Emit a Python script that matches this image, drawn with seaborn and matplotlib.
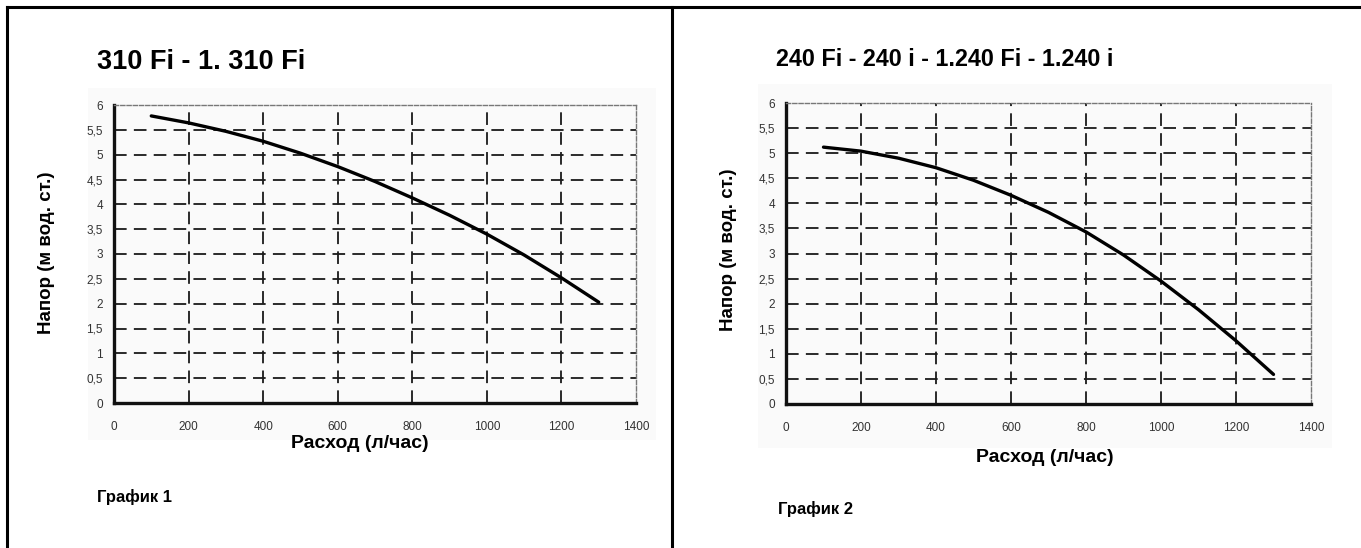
import matplotlib
matplotlib.use("Agg")
import matplotlib.pyplot as plt
import matplotlib.patches as mpatches
import matplotlib.lines as mlines
import pandas as pd
import seaborn as sns

# =========================================
# DATA
# =========================================

flow_1 = [100, 200, 300, 400, 500, 600, 700, 800, 900, 1000, 1100, 1200, 1300]
head_1 = [5.78, 5.64, 5.47, 5.27, 5.03, 4.76, 4.46, 4.13, 3.78, 3.40, 2.98, 2.52, 2.03]

flow_2 = [100, 200, 300, 400, 500, 600, 700, 800, 900, 1000, 1100, 1200, 1300]
head_2 = [5.12, 5.04, 4.90, 4.71, 4.46, 4.16, 3.82, 3.43, 2.97, 2.45, 1.88, 1.26, 0.59]

titles = ["310 Fi - 1. 310 Fi", "240 Fi - 240 i - 1.240 Fi - 1.240 i"]
captions = ["График 1", "График 2"]
x_label = "Расход (л/час)"
y_label = "Напор (м вод. ст.)"

x_ticks = [0, 200, 400, 600, 800, 1000, 1200, 1400]
y_ticks = [0, 0.5, 1, 1.5, 2, 2.5, 3, 3.5, 4, 4.5, 5, 5.5, 6]
y_tick_labels = [("%g" % v).replace(".", ",") for v in y_ticks]

sns.set_style("white")
plt.rcParams["font.family"] = ["Liberation Sans", "DejaVu Sans"]
plt.rcParams["text.color"] = "black"
plt.rcParams["axes.labelcolor"] = "black"

W, H = 1361, 548
fig = plt.figure(figsize=(W / 100, H / 100), dpi=100)


def fx(px):
    return px / W


def fy(py):
    return 1 - py / H


# frame lines of the scanned page
for xs, ys in [
    ((7, 7), (7, H)),
    ((7, W), (7, 7)),
    ((672, 672), (7, H)),
]:
    fig.add_artist(mlines.Line2D([fx(v) for v in xs], [fy(v) for v in ys],
                                 color="black", lw=2.2, solid_capstyle="projecting"))

# faint grey scan background behind each chart
for x0, y0, x1, y1 in [(88, 88, 656, 440), (758, 84, 1332, 448)]:
    fig.add_artist(mpatches.Rectangle((fx(x0), fy(y1)), fx(x1 - x0), (y1 - y0) / H,
                                      facecolor="#fafafa", edgecolor="none", zorder=0))

# axes boxes in pixels: left, top, right, bottom
boxes = [(114, 105, 636, 403), (786, 103, 1311, 404)]
xlabel_pos = [(360, 443), (1045, 458)]
ylabel_pos = [(47, 253), (729, 250)]
title_pos = [(97, 62), (776, 59)]
title_size = [19.5, 16.8]
caption_pos = [(97, 497), (778, 509)]
datasets = [(flow_1, head_1), (flow_2, head_2)]

for i, (l, t, r, b) in enumerate(boxes):
    ax = fig.add_axes([fx(l), fy(b), fx(r - l), (b - t) / H])
    ax.set_facecolor("none")

    df = pd.DataFrame({"flow": datasets[i][0], "head": datasets[i][1]})
    sns.lineplot(data=df, x="flow", y="head", color="black", lw=2.4, ax=ax, zorder=5)

    ax.set_xlim(0, 1400)
    ax.set_ylim(0, 6)
    ax.set_xticks(x_ticks)
    ax.set_yticks(y_ticks)
    ax.set_xticklabels([str(v) for v in x_ticks])
    ax.set_yticklabels(y_tick_labels)

    # dashed grid
    for v in y_ticks[1:-1]:
        ax.axhline(v, color="#1a1a1a", lw=1.3, ls=(0, (7, 4)), zorder=1)
    for v in x_ticks[1:-1]:
        ax.axvline(v, color="#1a1a1a", lw=1.3, ls=(0, (7, 4)), zorder=1)

    for side in ["left", "bottom"]:
        ax.spines[side].set_linewidth(2.4)
        ax.spines[side].set_color("#111111")
    for side in ["top", "right"]:
        ax.spines[side].set_linewidth(1.0)
        ax.spines[side].set_color("#777777")
        ax.spines[side].set_linestyle((0, (3, 1.5)))

    ax.tick_params(axis="x", direction="inout", length=8, width=1.2,
                   labelsize=8.5, labelcolor="#333333", pad=9)
    ax.tick_params(axis="y", direction="out", length=5, width=1.2,
                   labelsize=8.5, labelcolor="#333333", pad=3)

    ax.set_xlabel(x_label, fontsize=14, fontweight="bold")
    ax.set_ylabel(y_label, fontsize=13.5, fontweight="bold")
    ax.xaxis.set_label_coords((xlabel_pos[i][0] - l) / (r - l), (b - xlabel_pos[i][1]) / (b - t))
    ax.yaxis.set_label_coords((ylabel_pos[i][0] - l) / (r - l), (b - ylabel_pos[i][1]) / (b - t))
    ax.xaxis.label.set_va("center")
    ax.yaxis.label.set_va("center")

    fig.text(fx(title_pos[i][0]), fy(title_pos[i][1]), titles[i],
             fontsize=title_size[i], fontweight="bold", ha="left", va="center")
    fig.text(fx(caption_pos[i][0]), fy(caption_pos[i][1]), captions[i],
             fontsize=12, fontweight="bold", ha="left", va="center")

fig.savefig("out.png", dpi=100)
